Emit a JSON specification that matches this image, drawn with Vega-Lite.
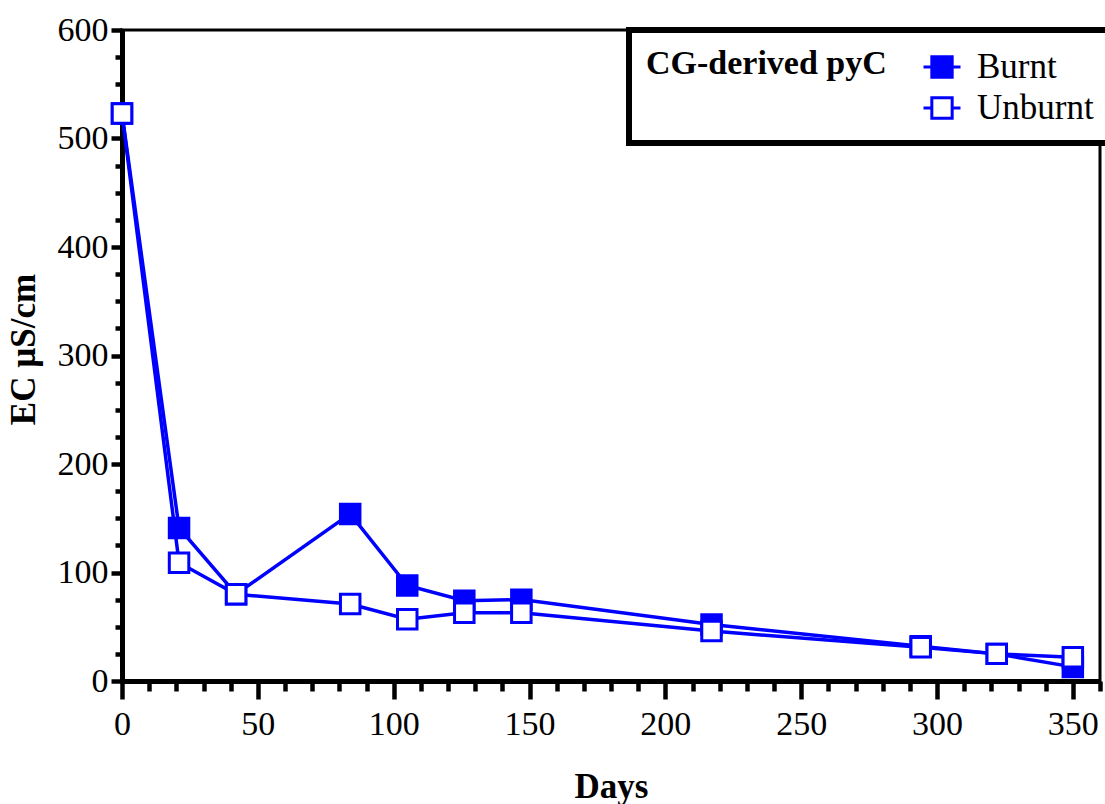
{
  "$schema": "https://vega.github.io/schema/vega-lite/v6.json",
  "width": 978,
  "height": 651,
  "autosize": {"type": "none"},
  "padding": {"left": 122, "top": 30, "right": 5, "bottom": 123},
  "background": "white",
  "config": {
    "view": {"stroke": "black", "strokeWidth": 3},
    "legend": {"strokeWidth": 6},
    "axis": {
      "domainColor": "black",
      "domainWidth": 5,
      "tickColor": "black",
      "tickWidth": 4.5,
      "grid": false,
      "labelFont": "Liberation Serif",
      "labelFontSize": 34,
      "labelColor": "black",
      "titleFont": "Liberation Serif",
      "titleFontSize": 35,
      "titleFontWeight": "bold",
      "titleColor": "black",
      "labelOverlap": false,
      "labelBound": false,
      "labelFlush": false
    }
  },
  "data": {
    "values": [
      {"day": 0, "ec": 523, "series": "Burnt"},
      {"day": 21, "ec": 141, "series": "Burnt"},
      {"day": 42, "ec": 80, "series": "Burnt"},
      {"day": 84, "ec": 154, "series": "Burnt"},
      {"day": 105, "ec": 88, "series": "Burnt"},
      {"day": 126, "ec": 74, "series": "Burnt"},
      {"day": 147, "ec": 75, "series": "Burnt"},
      {"day": 217, "ec": 52, "series": "Burnt"},
      {"day": 294, "ec": 32, "series": "Burnt"},
      {"day": 322, "ec": 25, "series": "Burnt"},
      {"day": 350, "ec": 13, "series": "Burnt"},
      {"day": 0, "ec": 523, "series": "Unburnt"},
      {"day": 21, "ec": 109, "series": "Unburnt"},
      {"day": 42, "ec": 80, "series": "Unburnt"},
      {"day": 84, "ec": 71, "series": "Unburnt"},
      {"day": 105, "ec": 57, "series": "Unburnt"},
      {"day": 126, "ec": 63, "series": "Unburnt"},
      {"day": 147, "ec": 63, "series": "Unburnt"},
      {"day": 217, "ec": 46, "series": "Unburnt"},
      {"day": 294, "ec": 31, "series": "Unburnt"},
      {"day": 322, "ec": 25, "series": "Unburnt"},
      {"day": 350, "ec": 22, "series": "Unburnt"}
    ]
  },
  "encoding": {
    "x": {
      "field": "day",
      "type": "quantitative",
      "scale": {"domain": [0, 360], "nice": false, "zero": false},
      "axis": {
        "title": "Days",
        "values": [0,10,20,30,40,50,60,70,80,90,100,110,120,130,140,150,160,170,180,190,200,210,220,230,240,250,260,270,280,290,300,310,320,330,340,350,360],
        "labelExpr": "datum.value % 50 === 0 ? datum.label : ''",
        "tickSize": {"condition": {"test": "datum.value % 50 === 0", "value": 18}, "value": 10},
        "labelPadding": 8,
        "titlePadding": 28
      }
    },
    "y": {
      "field": "ec",
      "type": "quantitative",
      "scale": {"domain": [0, 600], "nice": false},
      "axis": {
        "title": "EC µS/cm",
        "values": [0,25,50,75,100,125,150,175,200,225,250,275,300,325,350,375,400,425,450,475,500,525,550,575,600],
        "labelExpr": "datum.value % 100 === 0 ? datum.label : ''",
        "tickSize": {"condition": {"test": "datum.value % 100 === 0", "value": 11}, "value": 7},
        "labelPadding": 3,
        "titlePadding": 16,
        "titleY": 319
      }
    }
  },
  "layer": [
    {
      "mark": {"type": "line", "stroke": "#0000ff", "strokeWidth": 3.5},
      "encoding": {
        "detail": {"field": "series"},
        "order": {"field": "day"}
      }
    },
    {
      "mark": {"type": "point", "shape": "square", "filled": true, "size": 380, "stroke": "#0000ff", "strokeWidth": 3, "opacity": 1},
      "encoding": {
        "fill": {
          "field": "series",
          "type": "nominal",
          "scale": {"domain": ["Burnt", "Unburnt"], "range": ["#0000ff", "#ffffff"]},
          "legend": {
            "title": "CG-derived pyC",
            "orient": "none",
            "legendX": 507,
            "legendY": 0,
            "strokeColor": "black",
            "fillColor": "white",
            "padding": 17,
            "titleOrient": "left",
            "titleAnchor": "start",
            "titleFont": "Liberation Serif",
            "titleFontSize": 34,
            "titleFontWeight": "bold",
            "titleColor": "black",
            "titleLimit": 500,
            "titlePadding": 35,
            "titleBaseline": "top",
            "labelFont": "Liberation Serif",
            "labelFontSize": 35,
            "labelColor": "black",
            "labelOffset": 15,
            "labelLimit": 300,
            "symbolType": "M-1,0H-0.55M0.55,0H1M-0.55,-0.55H0.55V0.55H-0.55Z",
            "symbolSize": 1369,
            "symbolStrokeColor": "#0000ff",
            "symbolStrokeWidth": 3,
            "rowPadding": 3,
            "encode": {"legend": {"enter": {"strokeWidth": {"value": 6}}, "update": {"strokeWidth": {"value": 6}}}}
          }
        }
      }
    }
  ]
}
